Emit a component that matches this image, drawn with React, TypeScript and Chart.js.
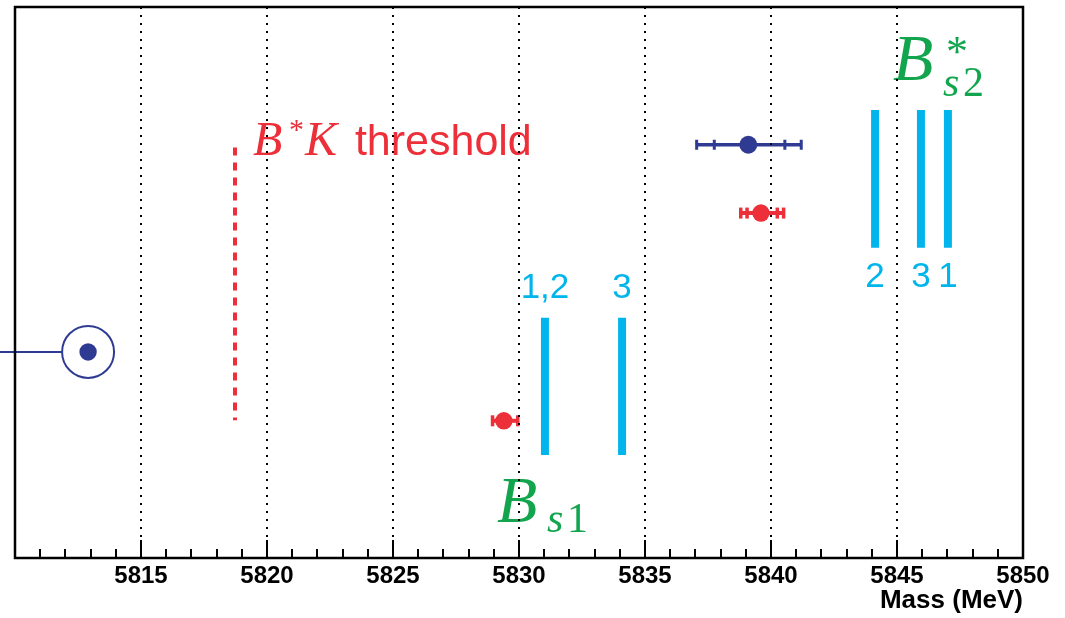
import React, { useEffect, useRef } from 'react';
import { Chart, registerables } from 'chart.js';

Chart.register(...registerables);

// ---------- data ----------
const X_MIN = 5810;
const X_MAX = 5850;
const Y_MIN = 0;
const Y_MAX = 10;
const MAJOR_STEP = 5;
const MINOR_STEP = 1;
const AXIS_TITLE = 'Mass (MeV)';

// B*K threshold (top row first)
const thresholdMass = [5818.73];
const thresholdRows = [7.45, 2.5];

// open-circle (bound state) point
const circleMass = [5812.9];
const circleRow = [3.74];
const circleLineFrom = [5809.4];

// blue measurement (two error layers)
const blueMass = [5839.1];
const blueRow = [7.5];
const blueInnerLo = [5837.75];
const blueInnerHi = [5840.55];
const blueOuterLo = [5837.05];
const blueOuterHi = [5841.2];

// red measurements
const redMass = [5839.6, 5829.4];
const redRow = [6.26, 2.49];
const redInnerLo = [5839.05, NaN];
const redInnerHi = [5840.25, NaN];
const redOuterLo = [5838.8, 5828.95];
const redOuterHi = [5840.5, 5829.95];

// predicted B_s1 states
const bs1Mass = [5831.03, 5834.09];
const bs1Rows = [1.87, 4.36];
const bs1Labels = ['1,2', '3'];
const bs1LabelRow = 4.72;

// predicted B*_s2 states
const bs2Mass = [5844.13, 5845.95, 5847.02];
const bs2Rows = [5.63, 8.13];
const bs2Labels = ['2', '3', '1'];
const bs2LabelRow = 4.92;

// text anchors (data coordinates)
const thresholdTextAt = { x: 5819.44, y: 7.31 };
const bs1TextAt = { x: 5829.13, y: 0.653 };
const bs2TextAt = { x: 5844.84, y: 8.67 };

// ---------- styles ----------
const BLUE = '#2f3b93';
const RED = '#ec2f38';
const CYAN = '#00b5ec';
const GREEN = '#13a54e';
const SERIF = '"Liberation Serif", "DejaVu Serif", serif';
const SANS = '"Liberation Sans", Arial, Helvetica, sans-serif';

type Run = { t: string; font: string; dx: number; dy: number };

const thresholdRuns: Run[] = [
  { t: 'B', font: `italic 48px ${SERIF}`, dx: 0, dy: 0 },
  { t: '*', font: `30px ${SERIF}`, dx: 36, dy: -16 },
  { t: 'K', font: `italic 48px ${SERIF}`, dx: 52, dy: 0 },
  { t: 'threshold', font: `43px ${SANS}`, dx: 102, dy: 0 },
];
const bs1Runs: Run[] = [
  { t: 'B', font: `italic 66px ${SERIF}`, dx: 0, dy: 0 },
  { t: 's', font: `italic 42px ${SERIF}`, dx: 50, dy: 10 },
  { t: '1', font: `42px ${SERIF}`, dx: 70, dy: 10 },
];
const bs2Runs: Run[] = [
  { t: 'B', font: `italic 66px ${SERIF}`, dx: 0, dy: 0 },
  { t: '*', font: `44px ${SERIF}`, dx: 53, dy: -14 },
  { t: 's', font: `italic 42px ${SERIF}`, dx: 50, dy: 16 },
  { t: '2', font: `42px ${SERIF}`, dx: 70, dy: 16 },
];

function drawRuns(ctx: CanvasRenderingContext2D, x: number, y: number, runs: Run[], color: string) {
  ctx.save();
  ctx.fillStyle = color;
  ctx.textAlign = 'left';
  ctx.textBaseline = 'alphabetic';
  for (const r of runs) {
    ctx.font = r.font;
    ctx.fillText(r.t, x + r.dx, y + r.dy);
  }
  ctx.restore();
}

function drawErrorBars(
  ctx: CanvasRenderingContext2D,
  xs: any,
  ys: any,
  mass: number[],
  row: number[],
  innerLo: number[],
  innerHi: number[],
  outerLo: number[],
  outerHi: number[],
  color: string,
  lw: number,
  capW: number,
  capH: number
) {
  ctx.save();
  ctx.fillStyle = color;
  ctx.strokeStyle = color;
  for (let i = 0; i < mass.length; i++) {
    const y = ys.getPixelForValue(row[i]);
    const x0 = xs.getPixelForValue(outerLo[i]);
    const x1 = xs.getPixelForValue(outerHi[i]);
    ctx.lineWidth = lw;
    ctx.beginPath();
    ctx.moveTo(x0, y);
    ctx.lineTo(x1, y);
    ctx.stroke();
    const caps = [outerLo[i], outerHi[i], innerLo[i], innerHi[i]];
    for (const c of caps) {
      if (!isFinite(c)) continue;
      const cx = xs.getPixelForValue(c);
      ctx.fillRect(cx - capW / 2, y - capH / 2, capW, capH);
    }
  }
  ctx.restore();
}

const overlayPlugin = {
  id: 'overlay',
  beforeDatasetsDraw(chart: any) {
    const ctx = chart.ctx as CanvasRenderingContext2D;
    const xs = chart.scales.x;
    const ys = chart.scales.y;
    drawErrorBars(ctx, xs, ys, blueMass, blueRow, blueInnerLo, blueInnerHi, blueOuterLo, blueOuterHi, BLUE, 3.5, 3, 10);
    drawErrorBars(ctx, xs, ys, redMass, redRow, redInnerLo, redInnerHi, redOuterLo, redOuterHi, RED, 4, 3.5, 11);
  },
  afterDatasetsDraw(chart: any) {
    const ctx = chart.ctx as CanvasRenderingContext2D;
    const xs = chart.scales.x;
    const ys = chart.scales.y;
    const area = chart.chartArea;

    // texts
    drawRuns(ctx, xs.getPixelForValue(thresholdTextAt.x), ys.getPixelForValue(thresholdTextAt.y), thresholdRuns, RED);
    drawRuns(ctx, xs.getPixelForValue(bs1TextAt.x), ys.getPixelForValue(bs1TextAt.y), bs1Runs, GREEN);
    drawRuns(ctx, xs.getPixelForValue(bs2TextAt.x), ys.getPixelForValue(bs2TextAt.y), bs2Runs, GREEN);

    ctx.save();
    ctx.fillStyle = CYAN;
    ctx.font = `35px ${SANS}`;
    ctx.textAlign = 'center';
    ctx.textBaseline = 'alphabetic';
    bs1Labels.forEach((l, i) => ctx.fillText(l, xs.getPixelForValue(bs1Mass[i]), ys.getPixelForValue(bs1LabelRow)));
    bs2Labels.forEach((l, i) => ctx.fillText(l, xs.getPixelForValue(bs2Mass[i]), ys.getPixelForValue(bs2LabelRow)));
    ctx.restore();

    // dotted grid
    ctx.save();
    ctx.strokeStyle = '#000';
    ctx.lineWidth = 2;
    ctx.setLineDash([2, 6]);
    for (let v = X_MIN + MAJOR_STEP; v < X_MAX; v += MAJOR_STEP) {
      const x = Math.round(xs.getPixelForValue(v));
      ctx.beginPath();
      ctx.moveTo(x, area.top);
      ctx.lineTo(x, area.bottom);
      ctx.stroke();
    }
    ctx.restore();

    // ticks
    ctx.save();
    ctx.strokeStyle = '#000';
    ctx.lineWidth = 2;
    for (let v = X_MIN + MINOR_STEP; v < X_MAX; v += MINOR_STEP) {
      const x = Math.round(xs.getPixelForValue(v));
      const len = v % MAJOR_STEP === 0 ? 18 : 9;
      ctx.beginPath();
      ctx.moveTo(x, area.bottom);
      ctx.lineTo(x, area.bottom - len);
      ctx.stroke();
    }
    // frame
    ctx.lineWidth = 2.5;
    ctx.strokeRect(area.left, area.top, area.right - area.left, area.bottom - area.top);
    ctx.restore();
  },
};

function vLine(x: number, rows: number[], color: string, width: number, dash: number[] = []) {
  return {
    type: 'line' as const,
    data: [
      { x, y: rows[0] },
      { x, y: rows[1] },
    ],
    borderColor: color,
    borderWidth: width,
    borderDash: dash,
    borderCapStyle: 'butt' as const,
    pointRadius: 0,
    showLine: true,
    fill: false,
  };
}

export default function App() {
  const ref = useRef<HTMLCanvasElement | null>(null);

  useEffect(() => {
    if (!ref.current) return;
    const datasets: any[] = [];

    // measured points
    datasets.push({
      type: 'scatter',
      data: blueMass.map((m, i) => ({ x: m, y: blueRow[i] })),
      pointRadius: 9,
      pointBackgroundColor: BLUE,
      pointBorderWidth: 0,
    });
    datasets.push({
      type: 'scatter',
      data: redMass.map((m, i) => ({ x: m, y: redRow[i] })),
      pointRadius: 8.7,
      pointBackgroundColor: RED,
      pointBorderWidth: 0,
    });
    // open circle + dot
    datasets.push({
      type: 'scatter',
      data: circleMass.map((m, i) => ({ x: m, y: circleRow[i] })),
      pointRadius: 8.7,
      pointBackgroundColor: BLUE,
      pointBorderWidth: 0,
    });
    datasets.push({
      type: 'scatter',
      data: circleMass.map((m, i) => ({ x: m, y: circleRow[i] })),
      pointRadius: 26,
      pointBackgroundColor: 'rgba(0,0,0,0)',
      pointBorderColor: BLUE,
      pointBorderWidth: 2,
    });
    datasets.push({
      type: 'line',
      data: [
        { x: circleLineFrom[0], y: circleRow[0] },
        { x: circleMass[0] - 1.03, y: circleRow[0] },
      ],
      borderColor: BLUE,
      borderWidth: 2,
      pointRadius: 0,
      clip: false,
    });
    // threshold
    datasets.push(vLine(thresholdMass[0], thresholdRows, RED, 4, [8, 7]));
    // predicted states
    bs1Mass.forEach((m) => datasets.push(vLine(m, bs1Rows, CYAN, 8)));
    bs2Mass.forEach((m) => datasets.push(vLine(m, bs2Rows, CYAN, 8)));

    const chart = new Chart(ref.current, {
      type: 'scatter',
      data: { datasets },
      options: {
        animation: false,
        responsive: false,
        devicePixelRatio: 1,
        events: [],
        layout: { autoPadding: false, padding: { left: 15, right: 42, top: 7, bottom: 0 } },
        plugins: { legend: { display: false }, tooltip: { enabled: false } },
        scales: {
          x: {
            type: 'linear',
            position: 'bottom',
            min: X_MIN,
            max: X_MAX,
            grid: { display: false, drawTicks: false },
            border: { display: false },
            ticks: {
              stepSize: MAJOR_STEP,
              autoSkip: false,
              maxRotation: 0,
              padding: 4,
              color: '#000',
              font: { family: SANS, weight: 'bold', size: 24 },
              callback: (v: any) => (Number(v) === X_MIN ? '' : String(v)),
            },
            title: {
              display: true,
              text: AXIS_TITLE,
              align: 'end',
              color: '#000',
              font: { family: SANS, weight: 'bold', size: 26 },
              padding: { top: 0, bottom: 2 },
            },
            afterFit: (s: any) => {
              s.height = 60;
            },
          },
          y: {
            type: 'linear',
            display: false,
            min: Y_MIN,
            max: Y_MAX,
          },
        },
      } as any,
      plugins: [overlayPlugin],
    });
    return () => chart.destroy();
  }, []);

  return (
    <div style={{ position: 'absolute', left: 0, top: 0, width: 1065, height: 618, background: '#fff' }}>
      <canvas ref={ref} width={1065} height={618} style={{ display: 'block' }} />
    </div>
  );
}
